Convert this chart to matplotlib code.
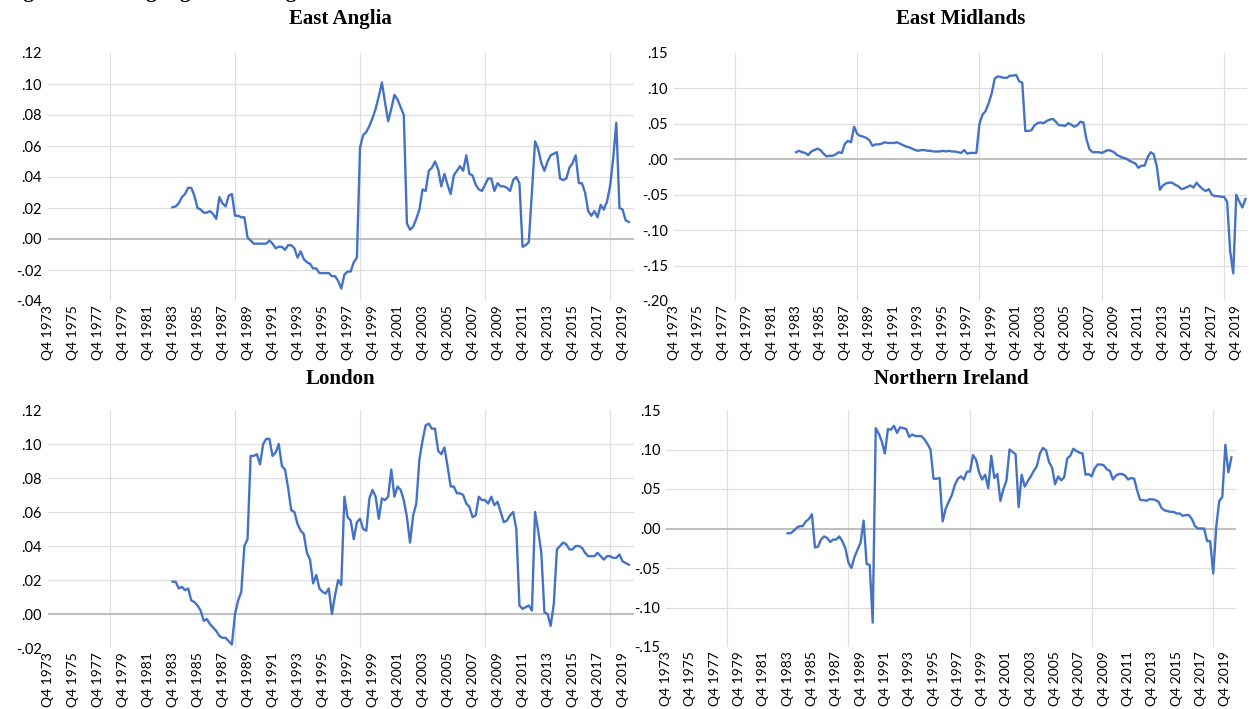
import numpy as np
import matplotlib.pyplot as plt
from matplotlib.ticker import FixedLocator

# quarterly index: 0 = Q4 1973, data starts at Q4 1983
tick_labels = [f"Q4 {y}" for y in range(1973, 2020, 2)]
first_q = 40
n_quarters = 187.5

east_anglia = [0.0205, 0.021, 0.023, 0.027, 0.029, 0.033, 0.033, 0.028, 0.020, 0.019,
               0.017, 0.017, 0.018, 0.016, 0.013, 0.027, 0.023, 0.021, 0.028, 0.029,
               0.015, 0.015, 0.014, 0.014, 0.001, -0.001, -0.003, -0.003, -0.003, -0.003,
               -0.003, -0.001, -0.003, -0.006, -0.005, -0.005, -0.007, -0.004, -0.004, -0.006,
               -0.012, -0.008, -0.013, -0.015, -0.016, -0.019, -0.019, -0.022, -0.022, -0.022,
               -0.022, -0.024, -0.024, -0.027, -0.032, -0.023, -0.021, -0.021, -0.015, -0.012,
               0.059, 0.067, 0.069, 0.073, 0.078, 0.084, 0.092, 0.101, 0.088, 0.076,
               0.084, 0.093, 0.090, 0.085, 0.080, 0.010, 0.006, 0.008, 0.013, 0.019,
               0.032, 0.031, 0.044, 0.046, 0.050, 0.045, 0.034, 0.042, 0.035, 0.029,
               0.041, 0.044, 0.047, 0.044, 0.054, 0.042, 0.041, 0.035, 0.032, 0.031,
               0.035, 0.039, 0.039, 0.031, 0.036, 0.034, 0.034, 0.033, 0.031, 0.038,
               0.040, 0.036, -0.005, -0.004, -0.002, 0.031, 0.063, 0.058, 0.049, 0.044,
               0.050, 0.054, 0.055, 0.056, 0.039, 0.038, 0.039, 0.046, 0.049, 0.054,
               0.036, 0.036, 0.030, 0.018, 0.015, 0.018, 0.014, 0.022, 0.019, 0.024,
               0.034, 0.052, 0.075, 0.020, 0.019, 0.012, 0.011]

east_midlands = [0.010, 0.012, 0.010, 0.009, 0.006, 0.011, 0.013, 0.015, 0.013, 0.008,
                 0.004, 0.005, 0.005, 0.007, 0.010, 0.009, 0.022, 0.026, 0.024, 0.046,
                 0.036, 0.033, 0.032, 0.030, 0.027, 0.019, 0.021, 0.021, 0.022, 0.024,
                 0.023, 0.023, 0.023, 0.024, 0.022, 0.020, 0.018, 0.017, 0.015, 0.013,
                 0.012, 0.013, 0.013, 0.012, 0.012, 0.011, 0.011, 0.011, 0.012, 0.011,
                 0.012, 0.011, 0.011, 0.010, 0.009, 0.013, 0.008, 0.009, 0.009, 0.009,
                 0.050, 0.063, 0.068, 0.079, 0.093, 0.114, 0.117, 0.116, 0.115, 0.115,
                 0.118, 0.118, 0.119, 0.110, 0.108, 0.040, 0.040, 0.041, 0.048, 0.051,
                 0.052, 0.051, 0.054, 0.056, 0.057, 0.053, 0.048, 0.048, 0.047, 0.051,
                 0.049, 0.046, 0.048, 0.053, 0.052, 0.028, 0.014, 0.010, 0.010, 0.010,
                 0.009, 0.011, 0.013, 0.012, 0.010, 0.006, 0.004, 0.002, 0.001, -0.002,
                 -0.004, -0.006, -0.012, -0.009, -0.009, 0.003, 0.010, 0.007, -0.010, -0.043,
                 -0.037, -0.034, -0.033, -0.033, -0.036, -0.038, -0.042, -0.041, -0.039, -0.037,
                 -0.040, -0.033, -0.038, -0.042, -0.045, -0.042, -0.050, -0.052, -0.052, -0.053,
                 -0.053, -0.060, -0.130, -0.161, -0.050, -0.060, -0.068, -0.056]

london = [0.019, 0.019, 0.015, 0.016, 0.014, 0.015, 0.008, 0.007, 0.005, 0.002,
          -0.004, -0.003, -0.006, -0.008, -0.010, -0.013, -0.014, -0.014, -0.016, -0.018,
          0.000, 0.008, 0.013, 0.040, 0.044, 0.093, 0.093, 0.094, 0.088, 0.100,
          0.103, 0.103, 0.093, 0.095, 0.100, 0.087, 0.085, 0.074, 0.061, 0.060,
          0.053, 0.049, 0.047, 0.036, 0.032, 0.018, 0.023, 0.015, 0.013, 0.012,
          0.015, 0.000, 0.011, 0.020, 0.017, 0.069, 0.057, 0.055, 0.044, 0.054,
          0.056, 0.050, 0.049, 0.068, 0.073, 0.069, 0.056, 0.068, 0.067, 0.069,
          0.085, 0.069, 0.075, 0.073, 0.067, 0.057, 0.042, 0.058, 0.065, 0.091,
          0.102, 0.111, 0.112, 0.109, 0.109, 0.096, 0.094, 0.098, 0.087, 0.075,
          0.075, 0.071, 0.071, 0.070, 0.065, 0.063, 0.057, 0.058, 0.069, 0.067,
          0.067, 0.065, 0.069, 0.064, 0.066, 0.060, 0.054, 0.055, 0.058, 0.060,
          0.050, 0.005, 0.003, 0.004, 0.005, 0.002, 0.060, 0.049, 0.036, 0.001,
          0.000, -0.007, 0.006, 0.038, 0.040, 0.042, 0.041, 0.038, 0.038, 0.040,
          0.040, 0.039, 0.036, 0.034, 0.034, 0.034, 0.036, 0.034, 0.032, 0.034,
          0.034, 0.033, 0.033, 0.035, 0.031, 0.030, 0.029]

northern_ireland = [-0.006, -0.006, -0.003, 0.001, 0.003, 0.003, 0.009, 0.012, 0.018, -0.024,
                    -0.023, -0.014, -0.010, -0.012, -0.017, -0.014, -0.014, -0.010, -0.016, -0.025,
                    -0.043, -0.050, -0.036, -0.027, -0.018, 0.010, -0.045, -0.046, -0.119, 0.127,
                    0.120, 0.110, 0.095, 0.126, 0.125, 0.130, 0.121, 0.128, 0.127, 0.126,
                    0.116, 0.119, 0.117, 0.117, 0.117, 0.113, 0.107, 0.100, 0.063, 0.063,
                    0.064, 0.009, 0.025, 0.034, 0.042, 0.055, 0.063, 0.066, 0.062, 0.072,
                    0.072, 0.093, 0.087, 0.071, 0.062, 0.068, 0.051, 0.092, 0.064, 0.069,
                    0.035, 0.050, 0.061, 0.100, 0.097, 0.094, 0.027, 0.068, 0.053, 0.060,
                    0.066, 0.073, 0.079, 0.095, 0.102, 0.099, 0.084, 0.077, 0.056, 0.066,
                    0.061, 0.065, 0.089, 0.092, 0.101, 0.098, 0.096, 0.095, 0.068, 0.069,
                    0.066, 0.076, 0.081, 0.081, 0.080, 0.075, 0.073, 0.062, 0.067, 0.069,
                    0.069, 0.067, 0.062, 0.064, 0.063, 0.048, 0.036, 0.036, 0.035, 0.037,
                    0.037, 0.036, 0.034, 0.026, 0.023, 0.022, 0.021, 0.021, 0.019, 0.019,
                    0.016, 0.017, 0.017, 0.012, 0.003, 0.000, 0.000, 0.000, -0.016, -0.016,
                    -0.057, 0.002, 0.035, 0.040, 0.106, 0.071, 0.090]

panels = [
    ("East Anglia", east_anglia, [-0.04, -0.02, 0.0, 0.02, 0.04, 0.06, 0.08, 0.10, 0.12]),
    ("East Midlands", east_midlands, [-0.20, -0.15, -0.10, -0.05, 0.0, 0.05, 0.10, 0.15]),
    ("London", london, [-0.02, 0.0, 0.02, 0.04, 0.06, 0.08, 0.10, 0.12]),
    ("Northern Ireland", northern_ireland, [-0.15, -0.10, -0.05, 0.0, 0.05, 0.10, 0.15]),
]

# axes boxes in pixels (left, right, top, bottom) on a 1254x709 canvas
boxes = [(47.5, 633.5, 53, 301), (673.7, 1247, 53, 301),
         (47.5, 633.5, 410, 648), (666, 1236, 410, 647)]

W, H = 1254, 709
fig = plt.figure(figsize=(W / 100, H / 100), dpi=100)

def fmt(v):
    s = f"{v:.2f}"
    return s.replace("0.", ".", 1)

label_font = ["Lato", "DejaVu Sans"]
blue = "#4472C4"

for (title, vals, yt), (l, r, t, b) in zip(panels, boxes):
    ax = fig.add_axes([l / W, (H - b) / H, (r - l) / W, (b - t) / H])
    x = first_q + np.arange(len(vals))
    ax.plot(x, vals, color=blue, lw=1.7, zorder=3)
    ax.set_xlim(0, n_quarters)
    ax.set_ylim(yt[0], yt[-1])
    ax.set_yticks(yt)
    ax.set_yticklabels([fmt(v) for v in yt], family=label_font, fontsize=10.5)
    ax.set_xticks(np.arange(0, len(tick_labels) * 8, 8))
    ax.set_xticklabels(tick_labels, rotation=90, family=label_font, fontsize=10)
    ax.xaxis.set_minor_locator(FixedLocator(np.arange(20, 188, 20)))
    ax.tick_params(which="both", length=0)
    ax.tick_params(axis="y", pad=4)
    ax.tick_params(axis="x", pad=3)
    ax.grid(axis="y", color="#DEDEDE", lw=0.9)
    ax.grid(axis="x", which="minor", color="#DEDEDE", lw=0.9)
    gl = ax.get_ygridlines()
    gl[0].set_visible(False)
    gl[-1].set_visible(False)
    ax.axhline(0, color="#BFBFBF", lw=1.4, zorder=2)
    for s in ax.spines.values():
        s.set_visible(False)
    ax.set_title(title, family=["Liberation Serif"], fontweight="bold",
                 fontsize=15, pad=21 if t < 100 else 19)

# figure caption, cut off by the top edge as in the source image
fig.text(0.004, 1 + 2.5 / H, "Figure 4: Rolling regression long-run coefficient estimates",
         family=["Liberation Serif"], fontweight="bold", fontsize=15, va="baseline")

fig.savefig("out.png", dpi=100)
